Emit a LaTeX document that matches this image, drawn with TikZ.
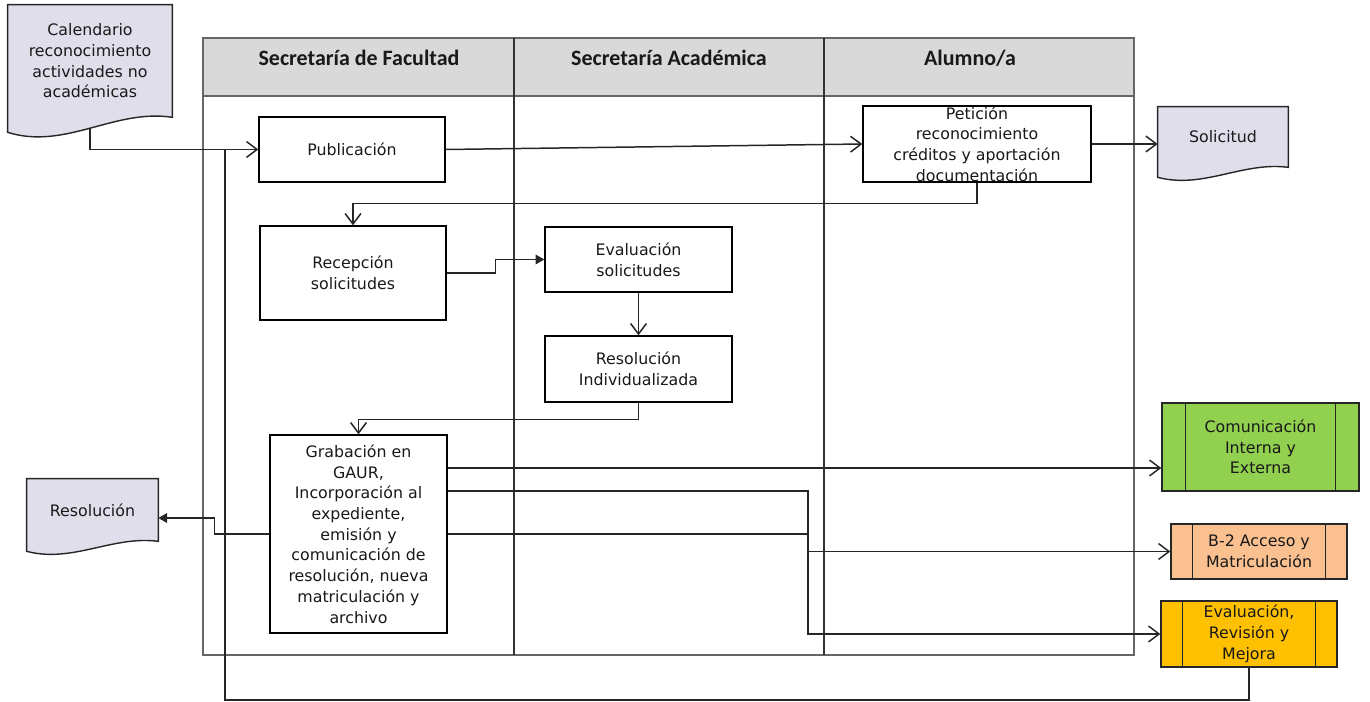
\documentclass[tikz,border=0pt]{standalone}
\usepackage{fontspec}
\setmainfont{DejaVu Sans}
\newfontfamily\headfont{Carlito}
\usetikzlibrary{arrows.meta,calc,backgrounds}

\definecolor{docfill}{HTML}{E1DEEC}
\definecolor{headgray}{HTML}{D9D9D9}
\definecolor{comgreen}{HTML}{92D050}
\definecolor{accpeach}{HTML}{FAC090}
\definecolor{evrorange}{HTML}{FFC000}

\begin{document}
\begin{tikzpicture}[x=0.02cm, y=-0.02cm,
  every node/.style={font=\fontsize{9}{11.8}\selectfont, align=center, text=black!90},
  box/.style={draw, line width=0.8pt, fill=white, inner sep=0pt},
  docnode/.style={inner sep=0pt},
  procbox/.style={draw=black!85, line width=0.8pt, inner sep=0pt},
  head/.style={font=\headfont\bfseries\fontsize{12.5}{14}\selectfont},
  link/.style={line width=0.85pt, draw=black!85},
  arr/.style={link, -{Straight Barb[length=6pt,width=9pt]}},
  farr/.style={link, -{Triangle[length=5pt,width=5.5pt]}}]
  \useasboundingbox (0,0) rectangle (1370,702);

  % Pool and lanes
  \draw[fill=headgray, draw=black!60, line width=1.1pt] (203,38) rectangle (1134,96);
  \draw[draw=black!60, line width=1.1pt] (203,38) rectangle (1134,655);
  \foreach \x in {514,824} {
    \draw[black!80, line width=0.8pt] (\x,38) -- (\x,655);
  }
  \node[head] (lanefac) at (359,58) {Secretaría de Facultad};
  \node[head] (laneaca) at (669,58) {Secretaría Académica};
  \node[head] (lanealu) at (970,58) {Alumno/a};

  % Documents
  \node[docnode, minimum width=3.28cm, minimum height=2.24cm] (cal) at (90,61)
    {Calendario\\reconocimiento\\actividades no\\académicas};
  \node[docnode, minimum width=2.6cm, minimum height=1.2cm] (sol) at (1223,137) {Solicitud};
  \node[docnode, minimum width=2.62cm, minimum height=1.24cm] (res) at (92.5,510) {Resolución};
  \begin{scope}[on background layer]
    \foreach \n/\d in {cal/15,sol/10,res/10} {
      \draw[fill=docfill, draw=black!85, line width=0.8pt]
        (\n.south east) -- (\n.north east) -- (\n.north west) -- ($(\n.south west)+(0,\d)$)
        .. controls ($(\n.south west)!0.35!(\n.south east)+(0,2.2*\d)$)
        and ($(\n.south west)!0.65!(\n.south east)+(0,-0.6*\d)$) .. (\n.south east) -- cycle;
    }
  \end{scope}

  % Steps
  \node[box, minimum width=3.72cm, minimum height=1.3cm] (pub) at (352,149.5) {Publicación};
  \node[box, minimum width=4.56cm, minimum height=1.52cm] (pet) at (977,144)
    {Petición\\reconocimiento\\créditos y aportación\\documentación};
  \node[box, minimum width=3.72cm, minimum height=1.88cm] (rec) at (353,273) {Recepción\\solicitudes};
  \node[box, minimum width=3.74cm, minimum height=1.3cm] (eva) at (638.5,259.5) {Evaluación\\solicitudes};
  \node[box, minimum width=3.74cm, minimum height=1.32cm] (rin) at (638.5,369) {Resolución\\Individualizada};
  \node[box, minimum width=3.54cm, minimum height=3.96cm] (gra) at (358.5,534)
    {Grabación en\\GAUR,\\Incorporación al\\expediente,\\emisión y\\comunicación de\\resolución, nueva\\matriculación y\\archivo};

  % Linked processes
  \node[procbox, fill=comgreen, minimum width=3.94cm, minimum height=1.76cm] (com) at (1260.5,447)
    {Comunicación\\Interna y\\Externa};
  \node[procbox, fill=accpeach, minimum width=3.52cm, minimum height=1.1cm] (acc) at (1259,551.5)
    {B-2 Acceso y\\Matriculación};
  \node[procbox, fill=evrorange, minimum width=3.52cm, minimum height=1.32cm] (evr) at (1249,634)
    {Evaluación,\\Revisión y\\Mejora};
  \foreach \n/\d in {com/24,acc/22,evr/22} {
    \draw[black!85, line width=0.8pt] ($(\n.north west)+(\d,0)$) -- ($(\n.south west)+(\d,0)$);
    \draw[black!85, line width=0.8pt] ($(\n.north east)-(\d,0)$) -- ($(\n.south east)-(\d,0)$);
  }

  % Flow
  \coordinate (fbturn) at (225,700);
  \coordinate (bend) at (808,491);
  \draw[arr] ($(cal.south)+(0,11)$) |- (pub.west);
  \draw[link] (evr.south) |- (fbturn) -- (fbturn |- pub.west);
  \draw[arr] (pub.east) -- (pet.west);
  \draw[arr] (pet.east) -- (sol.west |- pet.east);
  \draw[arr] (pet.south) -- ++(0,21) -| (rec.north);
  \draw[farr] (rec.east) -- ++(49,0) |- (eva.west);
  \draw[arr] (eva.south) -- (rin.north);
  \draw[arr] (rin.south) -- ++(0,17) -| (gra.north);
  \draw[farr] (gra.west) -- ++(-55,0) |- ($(res.east)+(0,8)$);
  \draw[arr] (gra.east |- com.west) ++(0,21) -- ($(com.west)+(0,21)$);
  \draw[arr] (gra.east |- bend) -- (bend) |- (acc.west);
  \draw[arr] (gra.east) -- (bend |- gra.east) |- (evr.west);
\end{tikzpicture}
\end{document}
